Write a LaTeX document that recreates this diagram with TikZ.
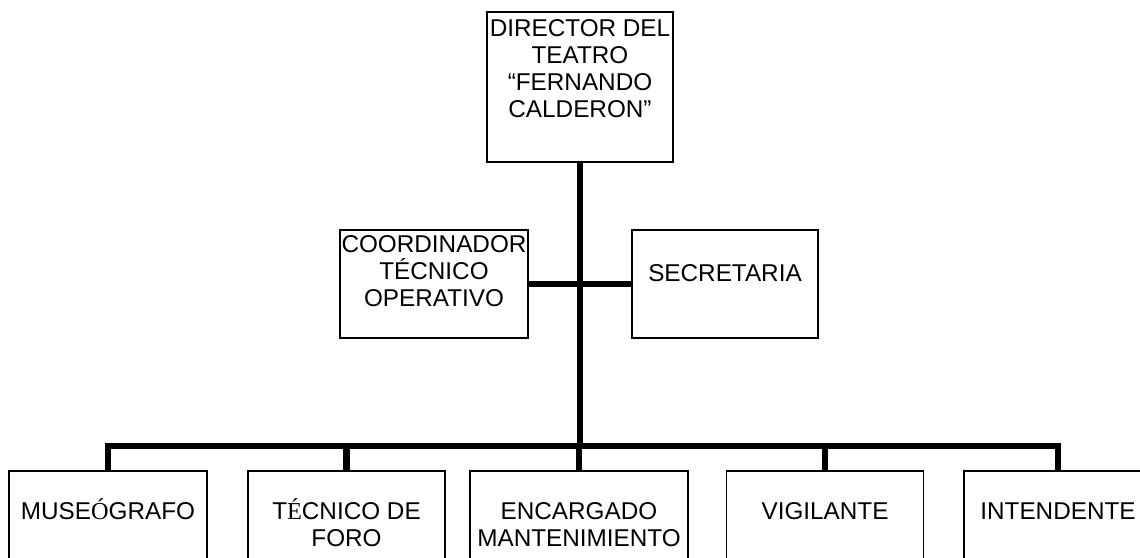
\documentclass[tikz,border=0pt]{standalone}
\usepackage{fontspec}
\setmainfont{Liberation Sans}
\newfontfamily\serifpart{Liberation Serif}
\begin{document}
\begin{tikzpicture}[x=1pt,y=-1pt,
  box/.style={draw,line width=1.7pt,inner sep=0pt,rectangle},
  lbl/.style={anchor=base,align=center,inner sep=0pt,font=\fontsize{24.3}{27}\selectfont},
  conn/.style={line width=6.5pt},
  thinconn/.style={line width=5.5pt}]
\useasboundingbox (0,0) rectangle (1140,557);
% boxes
\node[box,minimum width=186pt,minimum height=150pt] (dir) at (580,87) {};
\node[box,minimum width=188pt,minimum height=108pt] (coord) at (434,284) {};
\node[box,minimum width=186pt,minimum height=108pt] (secr) at (725,284) {};
\node[box,minimum width=198pt,minimum height=110pt] (mus) at (108,526) {};
\node[box,minimum width=197pt,minimum height=110pt] (tec) at (346.5,526) {};
\node[box,minimum width=218pt,minimum height=110pt] (enc) at (579,526) {};
\node[box,minimum width=197pt,minimum height=110pt] (vig) at (825,526) {};
\node[box,minimum width=188pt,minimum height=110pt] (int) at (1058,526) {};
% texts (base anchor = baseline of the last line)
\node[lbl] (dirt) at ([yshift=-106pt]dir.north) {DIRECTOR DEL\\TEATRO\\``FERNANDO\\CALDERON''};
\node[lbl] (coordt) at ([yshift=-77pt]coord.north) {COORDINADOR\\TÉCNICO\\OPERATIVO};
\node[lbl] (secrt) at ([yshift=-52pt]secr.north) {SECRETARIA};
\node[lbl] (must) at ([yshift=-49pt]mus.north) {MUSE{\serifpart Ó}GRAFO};
\node[lbl] (tect) at ([yshift=-76pt]tec.north) {T{\serifpart É}CNICO DE\\FORO};
\node[lbl] (enct) at ([yshift=-76pt]enc.north) {ENCARGADO\\MANTENIMIENTO};
\node[lbl] (vigt) at ([yshift=-49pt]vig.north) {VIGILANTE};
\node[lbl] (intt) at ([yshift=-49pt]int.north) {INTENDENTE};
% connectors
\coordinate (bar) at (580,446);
\draw[conn] (dir.south) -- (bar);
\draw[thinconn] (coord.east) -- (secr.west);
\draw[conn] (mus.north) -- (mus.north |- bar) -- (int.north |- bar) -- (int.north);
\draw[conn] (tec.north) -- (tec.north |- bar);
\draw[conn] (enc.north) -- (enc.north |- bar);
\draw[conn] (vig.north) -- (vig.north |- bar);
\end{tikzpicture}
\end{document}
